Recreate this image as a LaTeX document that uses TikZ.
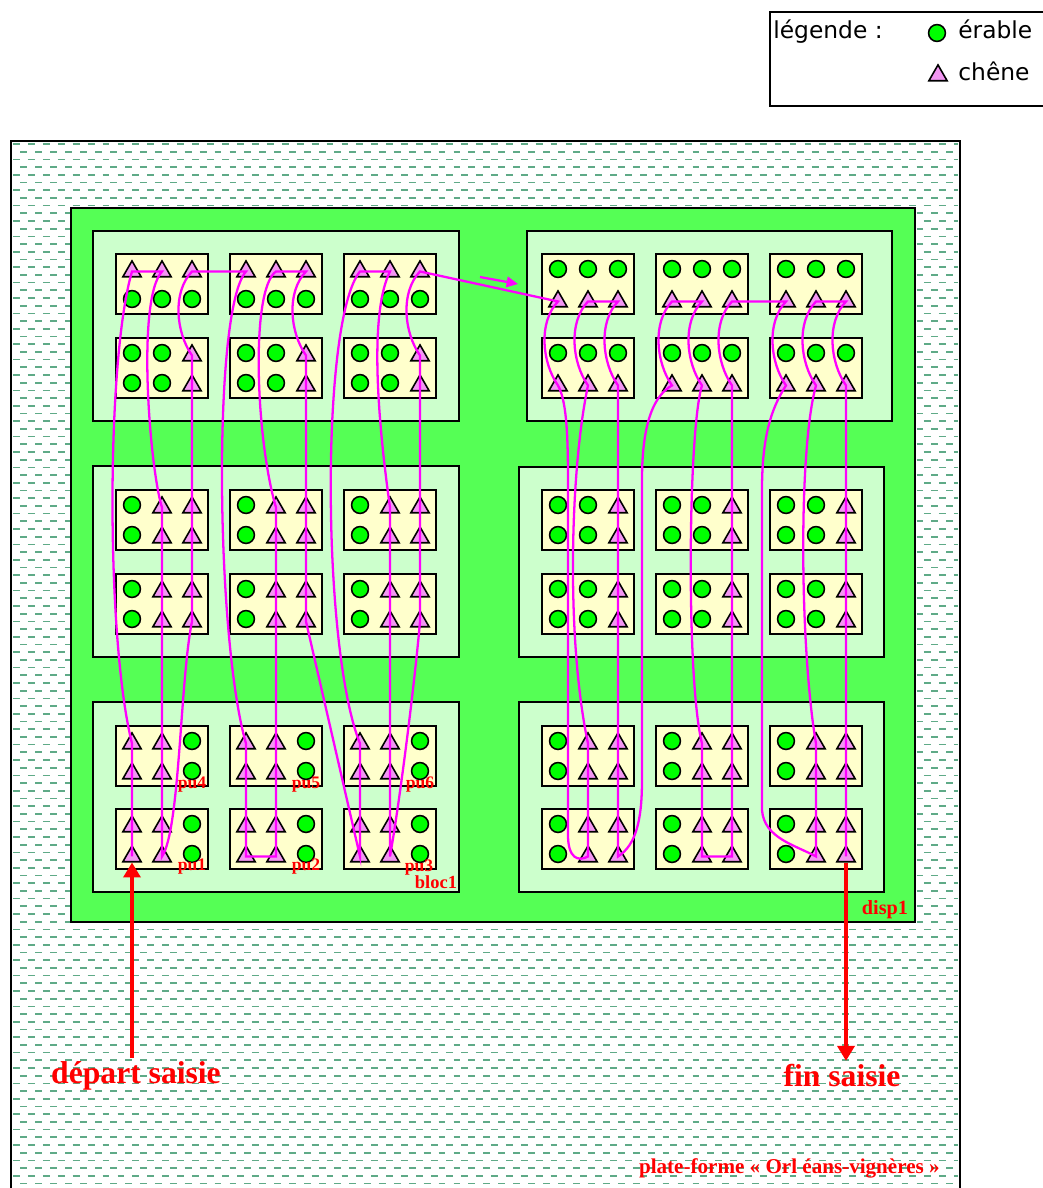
\documentclass[tikz,border=0pt]{standalone}
\usepackage{fontspec}
\usetikzlibrary{shapes.geometric,arrows.meta}

\newfontfamily\timesfont{Liberation Serif}
\newfontfamily\legfont{DejaVu Sans}

\definecolor{dispVert}{RGB}{85,255,85}
\definecolor{blocVert}{RGB}{204,255,204}
\definecolor{placJaune}{RGB}{255,255,204}
\definecolor{erableVert}{RGB}{0,255,0}
\definecolor{cheneRose}{RGB}{242,150,242}
\definecolor{trace}{RGB}{255,0,255}
\definecolor{motifVert}{RGB}{95,170,135}

\tikzset{
  bloc/.style={draw, line width=1.2pt, fill=blocVert},
  placette/.style={rectangle, draw, line width=1.2pt, fill=placJaune,
    minimum width=52.2pt, minimum height=34.6pt, inner sep=0pt},
  erable/.style={circle, draw, line width=0.9pt, fill=erableVert,
    minimum size=9.6pt, inner sep=0pt},
  chene/.style={regular polygon, regular polygon sides=3, draw, line width=0.9pt,
    fill=cheneRose, minimum size=12pt, inner sep=0pt, yshift=-1.4pt},
  parcours/.style={draw=trace, line width=1.3pt},
  fleche/.style={draw=red, line width=2.3pt, -{Triangle[length=8.5pt, width=9.6pt]}},
  etiq/.style={text=red, font=\timesfont\bfseries\fontsize{10}{12}\selectfont, inner sep=0pt},
  titre/.style={text=red, font=\timesfont\bfseries\fontsize{18}{21}\selectfont, inner sep=2pt},
  legtext/.style={font=\legfont\fontsize{13.3}{16}\selectfont, inner sep=0pt},
  motif/.style={draw=motifVert, line width=1pt, dash pattern=on 3.9pt off 4.6pt},
}

% one plot: box + 2x3 trees, named #1-1 ... #1-6
\newcommand{\placette}[4]{%
  \node[placette] (#1) at (#2+46,#3+31) {};
  \foreach \sym [count=\k] in {#4} {
    \pgfmathsetmacro{\sx}{#2+16+30*mod(\k-1,3)}
    \pgfmathsetmacro{\sy}{#3+16+30*int((\k-1)/3)}
    \node[\sym] (#1-\k) at (\sx,\sy) {};
  }
}

\begin{document}
\begin{tikzpicture}[x=0.02cm, y=-0.02cm]

\useasboundingbox (0,0) rectangle (1043,1188);

% Legend
\draw[line width=1.1pt] (770,12) rectangle (1060,106);
\node[legtext, anchor=base west] (legende) at (773,38) {légende :};
\node[erable] (legErable) at (937,33) {};
\node[legtext, anchor=base west] (txtErable) at (958,38) {érable};
\node[chene] (legChene) at (938,73) {};
\node[legtext, anchor=base west] (txtChene) at (958,80) {chêne};

% Platform with hatching
\draw[line width=1.1pt, fill=white] (11,141) rectangle (960,1200);
\foreach \r in {0,...,135} {
  \pgfmathsetmacro{\yy}{144+7.7*\r}
  \pgfmathsetmacro{\phase}{4.25*mod(\r,2)}
  \draw[motif, dash phase=\phase pt] (13,\yy) -- (958,\yy);
}

% Device
\draw[line width=1.2pt, fill=dispVert] (71,208) rectangle (915,922);

% Blocks
\draw[bloc] (93,231) rectangle (459,421);
\draw[bloc] (527,231) rectangle (892,421);
\draw[bloc] (93,466) rectangle (459,657);
\draw[bloc] (519,467) rectangle (884,657);
\draw[bloc] (93,702) rectangle (459,892);
\draw[bloc] (519,702) rectangle (884,892);

% Plots, left blocks
\foreach \j/\bx in {1/116, 2/230, 3/344} {
  \placette{A1\j}{\bx}{253}{chene,chene,chene,erable,erable,erable}
  \placette{A2\j}{\bx}{337}{erable,erable,chene,erable,erable,chene}
  \placette{C1\j}{\bx}{489}{erable,chene,chene,erable,chene,chene}
  \placette{C2\j}{\bx}{573}{erable,chene,chene,erable,chene,chene}
  \placette{E1\j}{\bx}{725}{chene,chene,erable,chene,chene,erable}
  \placette{E2\j}{\bx}{808}{chene,chene,erable,chene,chene,erable}
}

% Plots, right blocks
\foreach \j/\bx in {1/542, 2/656, 3/770} {
  \placette{B1\j}{\bx}{253}{erable,erable,erable,chene,chene,chene}
  \placette{B2\j}{\bx}{337}{erable,erable,erable,chene,chene,chene}
  \placette{D1\j}{\bx}{489}{erable,erable,chene,erable,erable,chene}
  \placette{D2\j}{\bx}{573}{erable,erable,chene,erable,erable,chene}
  \placette{F1\j}{\bx}{725}{erable,chene,chene,erable,chene,chene}
  \placette{F2\j}{\bx}{808}{erable,chene,chene,erable,chene,chene}
}

% Survey route
\draw[parcours]
  (E21-4.center) -- (E21-1.center) -- (E11-4.center) -- (E11-1.center)
  .. controls (106,640) and (106,360) .. (A11-1.center)
  -- (A11-2.center)
  .. controls (136,300) and (150,470) .. (C11-2.center)
  -- (C11-5.center) -- (C21-2.center) -- (C21-5.center)
  -- (E11-2.center) -- (E11-5.center) -- (E21-2.center) -- (E21-5.center)
  .. controls (180,830) and (180,680) .. (C21-6.center)
  -- (C21-3.center) -- (C11-6.center) -- (C11-3.center)
  -- (A21-6.center) -- (A21-3.center)
  .. controls +(-16,-23) and +(-20,21) .. (A11-3.center)
  -- (A12-1.center)
  .. controls (212,310) and (216,640) .. (E12-1.center)
  -- (E12-4.center) -- (E22-1.center) -- (E22-4.center)
  -- (E22-5.center)
  -- (E22-2.center) -- (E12-5.center) -- (E12-2.center)
  -- (C22-5.center) -- (C22-2.center) -- (C12-5.center) -- (C12-2.center)
  .. controls (256,440) and (250,290) .. (A12-2.center)
  -- (A12-3.center)
  .. controls +(-20,21) and +(-16,-23) .. (A22-3.center)
  -- (A22-6.center) -- (C12-3.center) -- (C12-6.center)
  -- (C22-3.center) -- (C22-6.center)
  -- (E23-4.center)
  -- (E23-1.center) -- (E13-4.center) -- (E13-1.center)
  .. controls (322,650) and (320,320) .. (A13-1.center)
  -- (A13-2.center)
  .. controls (366,320) and (382,450) .. (C13-2.center)
  -- (C13-5.center) -- (C23-2.center) -- (C23-5.center)
  -- (E13-2.center) -- (E13-5.center) -- (E23-2.center) -- (E23-5.center)
  .. controls (400,800) and (415,680) .. (C23-6.center)
  -- (C23-3.center) -- (C13-6.center) -- (C13-3.center)
  -- (A23-6.center) -- (A23-3.center)
  .. controls +(-16,-23) and +(-20,21) .. (A13-3.center)
  -- (B11-4.center)
  .. controls +(-20,21) and +(-16,-23) .. (B21-4.center)
  .. controls (566,400) and (568,430) .. (568,480)
  -- (568,835)
  .. controls (568,858) and (578,862) .. (F21-5.center)
  -- (F21-2.center) -- (F11-5.center) -- (F11-2.center)
  .. controls (566,640) and (570,470) .. (B21-5.center)
  .. controls +(-16,-23) and +(-20,21) .. (B11-5.center)
  -- (B11-6.center)
  .. controls +(-20,21) and +(-16,-23) .. (B21-6.center)
  -- (D11-3.center) -- (D11-6.center) -- (D21-3.center) -- (D21-6.center)
  -- (F11-3.center) -- (F11-6.center) -- (F21-3.center) -- (F21-6.center)
  .. controls (636,845) and (642,820) .. (642,780)
  -- (642,480)
  .. controls (642,420) and (655,395) .. (B22-4.center)
  .. controls +(-16,-23) and +(-20,21) .. (B12-4.center)
  -- (B12-5.center)
  .. controls +(-20,21) and +(-16,-23) .. (B22-5.center)
  .. controls (688,430) and (686,680) .. (F12-2.center)
  -- (F12-5.center) -- (F22-2.center) -- (F22-5.center)
  -- (F22-6.center)
  -- (F22-3.center) -- (F12-6.center) -- (F12-3.center)
  -- (D22-6.center) -- (D22-3.center) -- (D12-6.center) -- (D12-3.center)
  -- (B22-6.center)
  .. controls +(-16,-23) and +(-20,21) .. (B12-6.center)
  -- (B13-4.center)
  .. controls +(-20,21) and +(-16,-23) .. (B23-4.center)
  .. controls (770,410) and (762,440) .. (762,490)
  -- (762,810)
  .. controls (764,838) and (795,845) .. (F23-5.center)
  -- (F23-2.center) -- (F13-5.center) -- (F13-2.center)
  .. controls (800,650) and (798,450) .. (B23-5.center)
  .. controls +(-16,-23) and +(-20,21) .. (B13-5.center)
  -- (B13-6.center)
  .. controls +(-20,21) and +(-16,-23) .. (B23-6.center)
  -- (D13-3.center) -- (D13-6.center) -- (D23-3.center) -- (D23-6.center)
  -- (F13-3.center) -- (F13-6.center) -- (F23-3.center) -- (F23-6.center);

% Direction hint between the blocks
\coordinate (sensA) at (480,277);
\coordinate (sensB) at (518,284);
\draw[
    parcours,
    -{Triangle[length=6.5pt, width=6pt]}
]
    (sensA) -- (sensB);

% Plot and block labels
\node[etiq] (pu4) at (192,785) {pu4};
\node[etiq] (pu5) at (306,785) {pu5};
\node[etiq] (pu6) at (420,785) {pu6};
\node[etiq] (pu1) at (192,867) {pu1};
\node[etiq] (pu2) at (306,867) {pu2};
\node[etiq] (pu3) at (419,868) {pu3};
\node[etiq, font=\timesfont\bfseries\fontsize{10.5}{12}\selectfont] (bloc1) at (436,882) {bloc1};
\node[etiq, font=\timesfont\bfseries\fontsize{11.5}{13}\selectfont] (disp1) at (885,910) {disp1};

% Start and end of the survey
\node[titre] (depart) at (136,1076) {départ saisie};
\node[titre] (fin) at (842,1076) {fin saisie};
\draw[fleche] (depart.north -| E21-4) -- (E21-4);
\draw[fleche] (F23-6) -- (fin.north -| F23-6);

% Platform name
\node[etiq, font=\timesfont\bfseries\fontsize{12}{14}\selectfont, anchor=east]
    (plateforme) at (940,1168) {plate-forme « Orl éans-vignères »};

\end{tikzpicture}
\end{document}
